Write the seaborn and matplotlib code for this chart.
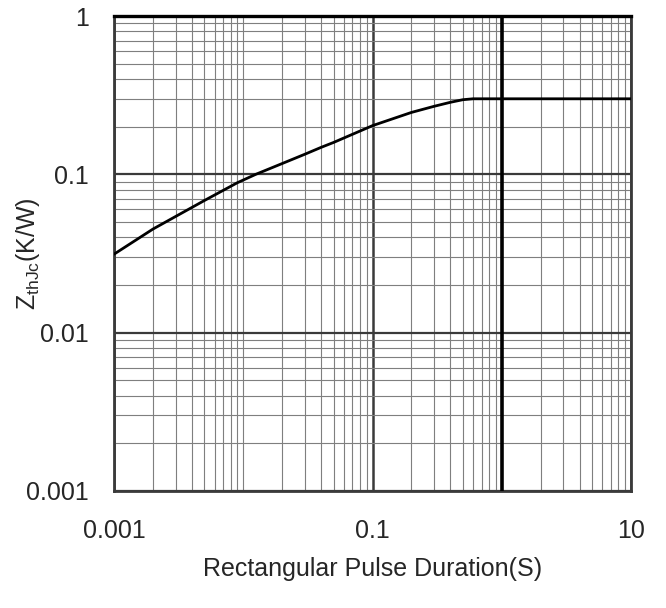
import numpy as np
import pandas as pd
import matplotlib
matplotlib.use("Agg")
import matplotlib.pyplot as plt
import seaborn as sns
from matplotlib.ticker import FixedLocator, FixedFormatter, LogLocator, NullFormatter

# data
pulse_s = [0.001, 0.002, 0.003, 0.005, 0.009, 0.0125, 0.02, 0.03, 0.04, 0.05,
           0.1, 0.2, 0.3, 0.4, 0.5, 0.6, 10]
zth_kw = [0.0313, 0.0451, 0.0542, 0.0683, 0.0885, 0.100, 0.117, 0.134, 0.148, 0.159,
          0.203, 0.246, 0.269, 0.285, 0.296, 0.300, 0.300]
x_ticks = [0.001, 0.1, 10]
x_ticklabels = ["0.001", "0.1", "10"]
y_ticks = [0.001, 0.01, 0.1, 1]
y_ticklabels = ["0.001", "0.01", "0.1", "1"]
bold_vlines = [1]

sns.set_style("white")
plt.rcParams['font.family'] = ['Liberation Sans', 'DejaVu Sans']
plt.rcParams['mathtext.fontset'] = 'custom'
plt.rcParams['mathtext.rm'] = 'Liberation Sans'
plt.rcParams['mathtext.it'] = 'Liberation Sans'

df = pd.DataFrame({"t": pulse_s, "z": zth_kw})

fig = plt.figure(figsize=(6.66, 6.08), dpi=100)
ax = fig.add_axes([114/666, 1-491/608, (631-114)/666, (491-16)/608])

sns.lineplot(data=df, x="t", y="z", ax=ax, color="black", linewidth=2, zorder=5)

ax.set_xscale("log")
ax.set_yscale("log")
ax.set_xlim(0.001, 10)
ax.set_ylim(0.001, 1)

ax.xaxis.set_major_locator(FixedLocator(x_ticks))
ax.xaxis.set_major_formatter(FixedFormatter(x_ticklabels))
ax.yaxis.set_major_locator(FixedLocator(y_ticks))
ax.yaxis.set_major_formatter(FixedFormatter(y_ticklabels))
ax.xaxis.set_minor_locator(LogLocator(base=10, subs=np.arange(1, 10), numticks=100))
ax.yaxis.set_minor_locator(LogLocator(base=10, subs=np.arange(1, 10), numticks=100))
ax.xaxis.set_minor_formatter(NullFormatter())
ax.yaxis.set_minor_formatter(NullFormatter())

ax.grid(which="minor", color="#7f7f7f", linewidth=0.8, zorder=1)
ax.grid(which="major", axis="y", color="#3a3a3a", linewidth=1.6, zorder=2)
ax.grid(which="major", axis="x", color="#3a3a3a", linewidth=1.8, zorder=2)
for v in bold_vlines:
    ax.axvline(v, color="black", linewidth=2.6, zorder=3)
ax.set_axisbelow(True)

ax.tick_params(which="both", length=0)
ax.tick_params(axis="x", which="major", labelsize=18, pad=20)
ax.tick_params(axis="y", which="major", labelsize=18, pad=18)

for s in ["left", "bottom", "right"]:
    ax.spines[s].set_color("#3a3a3a")
    ax.spines[s].set_linewidth(2)
    ax.spines[s].set_visible(True)
ax.spines["top"].set_color("black")
ax.spines["top"].set_linewidth(2.4)
ax.spines["top"].set_visible(True)

ax.set_xlabel("Rectangular Pulse Duration(S)", fontsize=18, labelpad=10)
ax.set_ylabel(r"Z$_{\mathrm{thJc}}$(K/W)", fontsize=18)
ax.yaxis.label.set_verticalalignment("center")
ax.yaxis.set_label_coords((28 - 114) / 517, 0.5)

fig.savefig("out.png", dpi=100)
